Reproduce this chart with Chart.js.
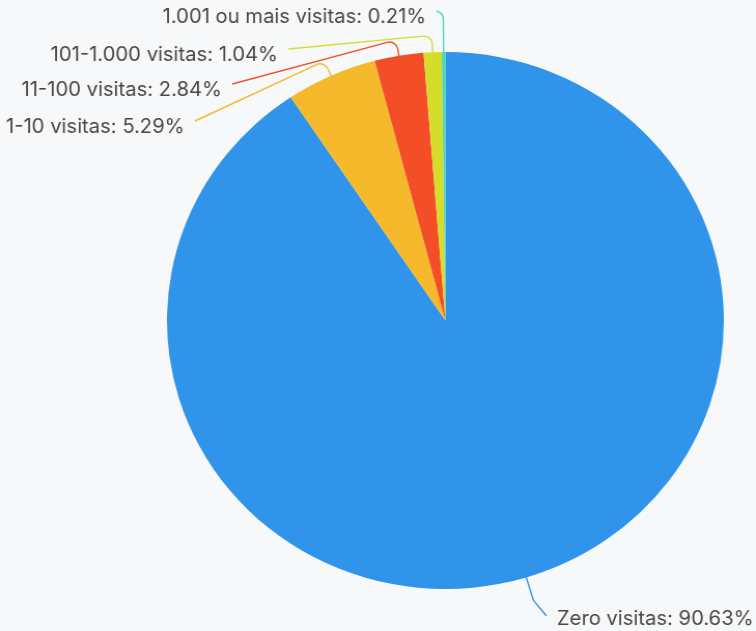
<!DOCTYPE html>
<html>
<head>
<meta charset="utf-8">
<script src="https://cdn.jsdelivr.net/npm/chart.js@4.4.0/dist/chart.umd.min.js"></script>
<style>
  html, body { margin: 0; padding: 0; background: #F7F8FA; overflow: hidden; }
  /* o original está um pouco esticado na horizontal */
  #wrap { width: 729px; height: 631px; transform: scaleX(1.037); transform-origin: 0 0; }
</style>
</head>
<body>
<div id="wrap"><canvas id="visitasChart"></canvas></div>
<script>
// Dados
const categorias = ['Zero visitas', '1-10 visitas', '11-100 visitas', '101-1.000 visitas', '1.001 ou mais visitas'];
const porcentagens = [90.63, 5.29, 2.84, 1.04, 0.21];
const cores = ['#2F94EA', '#F6B92B', '#F44E28', '#D4DE2A', '#4FD8B8'];

// onde termina cada linha guia (posição do rótulo) e quanto sai do arco
const fimLinha = [
    { x: 527, y: 616, lado: 'direita', saida: 24 },
    { x: 188, y: 121, lado: 'esquerda', saida: 16 },
    { x: 224, y: 84, lado: 'esquerda', saida: 16 },
    { x: 278, y: 49, lado: 'esquerda', saida: 17 },
    { x: 421, y: 11, lado: 'esquerda', saida: 38 }
];

const rotulosPlugin = {
    id: 'rotulos',
    afterDraw(chart) {
        const ctx = chart.ctx;
        const arcs = chart.getDatasetMeta(0).data;
        ctx.save();
        ctx.font = '19.5px Inter, "Noto Sans", sans-serif';
        ctx.textBaseline = 'middle';
        arcs.forEach((arc, i) => {
            const ang = (arc.startAngle + arc.endAngle) / 2;
            const r = arc.outerRadius;
            const cx = arc.x, cy = arc.y;
            const f = fimLinha[i];
            const p0 = { x: cx + Math.cos(ang) * (r - 2), y: cy + Math.sin(ang) * (r - 2) };
            const p1 = { x: cx + Math.cos(ang) * (r + f.saida), y: cy + Math.sin(ang) * (r + f.saida) };
            ctx.strokeStyle = cores[i];
            ctx.lineWidth = 1.4;
            ctx.beginPath();
            ctx.moveTo(p0.x, p0.y);
            ctx.arcTo(p1.x, p1.y, f.x, f.y, 8);
            ctx.lineTo(f.x, f.y);
            ctx.stroke();

            ctx.fillStyle = '#474747';
            const texto = categorias[i] + ': ' + porcentagens[i].toFixed(2) + '%';
            if (f.lado === 'direita') {
                ctx.textAlign = 'left';
                ctx.fillText(texto, f.x + 10, f.y + 3);
            } else {
                ctx.textAlign = 'right';
                ctx.fillText(texto, f.x - 10, f.y + 6);
            }
        });
        ctx.restore();
    }
};

const ctx = document.getElementById('visitasChart').getContext('2d');
const visitasChart = new Chart(ctx, {
    type: 'pie',
    data: {
        labels: categorias,
        datasets: [{
            data: porcentagens,
            backgroundColor: cores,
            borderWidth: 0
        }]
    },
    options: {
        responsive: true,
        maintainAspectRatio: false,
        animation: false,
        layout: {
            padding: { left: 161, right: 31, top: 52, bottom: 42 }
        },
        plugins: {
            legend: { display: false },
            tooltip: { enabled: false }
        }
    },
    plugins: [rotulosPlugin]
});
</script>
</body>
</html>
